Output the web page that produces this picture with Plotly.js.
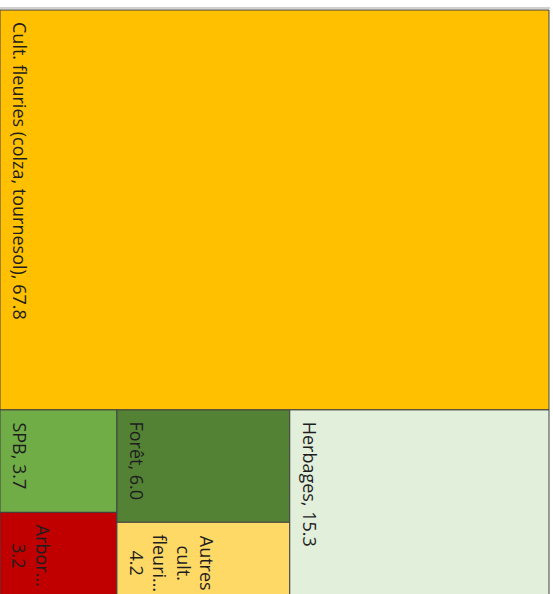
<!DOCTYPE html>
<html><head><meta charset="utf-8">
<script src="https://cdn.plot.ly/plotly-3.0.1.min.js"></script>
<style>html,body{margin:0;padding:0;background:#fff}#chart{width:553px;height:594px}</style>
</head><body><div id="chart"></div>
<script>
// ---- data ----
const labels = ['Cult. fleuries (colza, tournesol)', 'SPB', 'Arbor\u2026', 'For\u00eat', 'Autres cult. fleuri\u2026', 'Herbages'];
const values = [67.8, 3.7, 3.2, 6.0, 4.2, 15.3];
// layout group: 0 = full-width band at the top, 1..3 = columns of the bottom band
const groups = [0, 1, 1, 2, 2, 3];
// ---- styles ----
const wrapped = [false, false, true, false, true, false];
const colors = ['#FFC000', '#70AD47', '#C00000', '#548235', '#FFD966', '#E2EFDA'];

const W = 549, H = 591;
const sum = a => a.reduce((s, v) => s + v, 0);
const total = sum(values);

// compute tiles from values
const tiles = [];
const topIdx = values.map((v, i) => i).filter(i => groups[i] === 0);
let yCur = 0;
topIdx.forEach(i => {
  const h = H * values[i] / total;
  tiles[i] = {x0: 0, x1: W, y0: yCur, y1: yCur + h};
  yCur += h;
});
const bandTop = yCur;
const bottomIdx = values.map((v, i) => i).filter(i => groups[i] !== 0);
const bottomSum = sum(bottomIdx.map(i => values[i]));
const colIds = [...new Set(bottomIdx.map(i => groups[i]))].sort((a, b) => a - b);
let xCur = 0;
colIds.forEach(c => {
  const members = bottomIdx.filter(i => groups[i] === c);
  const colSum = sum(members.map(i => values[i]));
  const w = W * colSum / bottomSum;
  let yy = bandTop;
  members.forEach(i => {
    const h = (H - bandTop) * values[i] / colSum;
    tiles[i] = {x0: xCur, x1: xCur + w, y0: yy, y1: yy + h};
    yy += h;
  });
  xCur += w;
});

const traces = tiles.map((t, i) => ({
  type: 'scatter', mode: 'lines',
  x: [t.x0, t.x1, t.x1, t.x0, t.x0],
  y: [t.y0, t.y0, t.y1, t.y1, t.y0],
  fill: 'toself', fillcolor: colors[i],
  line: {color: '#404040', width: 1},
  hoverinfo: 'skip', showlegend: false
}));

const font = {family: '"Open Sans", "Noto Sans", sans-serif', size: 18, color: '#1e1e1e'};
const annotations = tiles.map((t, i) => ({
  x: t.x0, y: t.y0, xref: 'x', yref: 'y',
  xanchor: 'left', yanchor: 'top', xshift: 6, yshift: -10,
  textangle: 90, showarrow: false, align: 'center',
  text: wrapped[i] ? labels[i].split(' ').join('<br>') + '<br>' + values[i].toFixed(1)
                   : labels[i] + ', ' + values[i].toFixed(1),
  font: font
}));

const layout = {
  width: 553, height: 594,
  margin: {l: 0, r: 3, t: 9, b: 0},
  paper_bgcolor: '#ffffff', plot_bgcolor: '#ffffff',
  xaxis: {range: [0, 550], visible: false, fixedrange: true},
  yaxis: {range: [584, -1], visible: false, fixedrange: true},
  annotations: annotations,
  shapes: [
    {type: 'line', xref: 'paper', yref: 'paper', x0: 0, x1: 1, y0: 1.0015, y1: 1.0015,
     line: {color: '#d0d0d0', width: 2}, layer: 'below'}
  ],
  showlegend: false
};
Plotly.newPlot('chart', traces, layout, {displayModeBar: false, staticPlot: true});
</script></body></html>
